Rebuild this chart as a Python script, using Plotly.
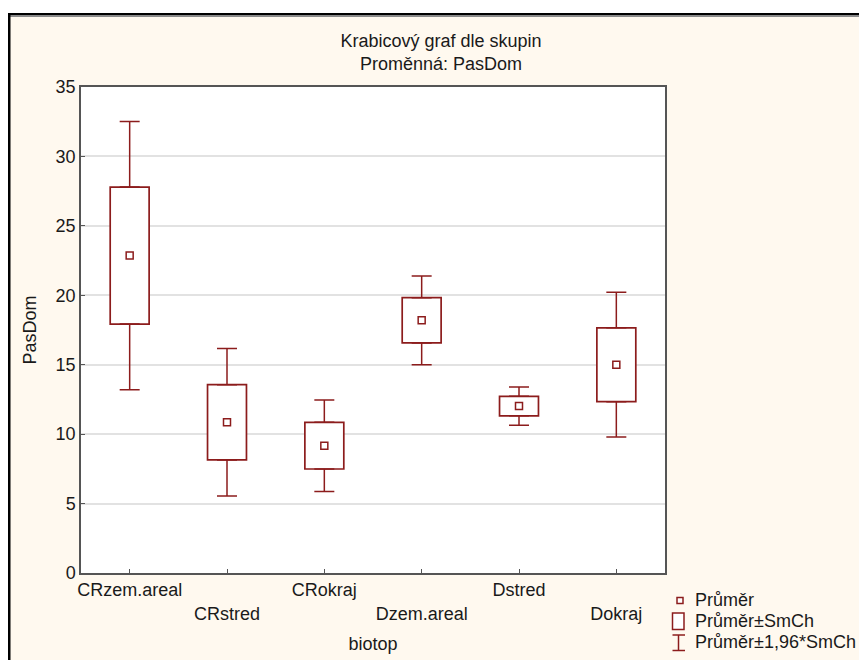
import plotly.graph_objects as go

# Group labels (biotop) and per-group statistics of PasDom
biotop = ["CRzem.areal", "CRstred", "CRokraj", "Dzem.areal", "Dstred", "Dokraj"]
prumer = [22.86, 10.85, 9.17, 18.20, 12.02, 15.00]   # group mean
smch = [4.93, 2.71, 1.68, 1.63, 0.70, 2.66]          # standard error of the mean
y_ticks = [0, 5, 10, 15, 20, 25, 30, 35]

RED = "#8C1C1C"
CREAM = "#FFF9EF"
TXT = "#1a1a1a"
FONT = "Liberation Sans, Arial, sans-serif"
FS = 18

W, H = 859, 660
ML, MR, MT, MB = 81, 194, 87, 87
PW, PH = W - ML - MR, H - MT - MB

# box = mean ± SE, whiskers = mean ± 1.96*SE
q1 = [m - s for m, s in zip(prumer, smch)]
q3 = [m + s for m, s in zip(prumer, smch)]
up = [1.96 * s - s for s in smch]      # whisker length beyond box edge
zero = [0] * len(biotop)


def px(xp):
    return (xp - ML) / PW


def py(yp):
    return (H - MB - yp) / PH


fig = go.Figure()

# box body: mean ± SE
fig.add_trace(go.Bar(
    x=biotop, base=q1, y=[2 * s for s in smch], width=0.4,
    marker=dict(color="white", line=dict(color=RED, width=1.7)),
    hoverinfo="skip", showlegend=False,
))

# whiskers up to mean ± 1.96*SE, starting at the box edges
whisker = dict(type="data", symmetric=False, width=10, thickness=1.5, color=RED)
fig.add_trace(go.Scatter(
    x=biotop, y=q3, mode="markers", marker=dict(size=1, opacity=0),
    error_y=dict(whisker, array=up, arrayminus=zero),
    hoverinfo="skip", showlegend=False,
))
fig.add_trace(go.Scatter(
    x=biotop, y=q1, mode="markers", marker=dict(size=1, opacity=0),
    error_y=dict(whisker, array=zero, arrayminus=up),
    hoverinfo="skip", showlegend=False,
))

# mean markers
fig.add_trace(go.Scatter(
    x=biotop, y=prumer, mode="markers",
    marker=dict(symbol="square", size=7, color="white",
                line=dict(color=RED, width=1.5)),
    showlegend=False, hoverinfo="skip",
))

# staggered category labels
ticktext = [b if i % 2 == 0 else "<br>" + b for i, b in enumerate(biotop)]

fig.update_xaxes(
    type="category", range=[-0.5, 5.5], tickmode="array",
    tickvals=biotop, ticktext=ticktext, automargin=False,
    ticks="inside", ticklen=4, tickcolor="#555", tickwidth=1,
    showline=True, linecolor="#555", linewidth=1.5, mirror=True,
    showgrid=False, tickfont=dict(size=FS, color=TXT, family=FONT),
    title=dict(text="biotop", font=dict(size=FS, color=TXT, family=FONT), standoff=15),
)
fig.update_yaxes(
    range=[0, 35], tickmode="array", tickvals=y_ticks, automargin=False,
    ticks="inside", ticklen=4, tickcolor="#555", tickwidth=1,
    showline=True, linecolor="#555", linewidth=1.5, mirror=True,
    showgrid=True, gridcolor="#e2e2e2", gridwidth=1.5, zeroline=False,
    tickfont=dict(size=FS, color=TXT, family=FONT),
    title=dict(text="PasDom", font=dict(size=FS, color=TXT, family=FONT), standoff=14),
)

shapes = []
# outer frame
shapes += [
    dict(type="rect", x0=px(0), x1=px(W), y0=py(0), y1=py(13), fillcolor="white", line_width=0),
    dict(type="rect", x0=px(0), x1=px(8), y0=py(0), y1=py(H), fillcolor="white", line_width=0),
    dict(type="rect", x0=px(8), x1=px(W), y0=py(13), y1=py(15), fillcolor="black", line_width=0),
    dict(type="rect", x0=px(10), x1=px(W), y0=py(15), y1=py(17), fillcolor="#8a8a8a", line_width=0),
    dict(type="rect", x0=px(8), x1=px(10.5), y0=py(13), y1=py(H), fillcolor="black", line_width=0),
]
# legend symbols
shapes += [
    dict(type="rect", x0=px(677), x1=px(683), y0=py(597.5), y1=py(603.5),
         line=dict(color=RED, width=1.5), fillcolor="white"),
    dict(type="rect", x0=px(672.5), x1=px(684), y0=py(613), y1=py(629.5),
         line=dict(color=RED, width=1.5), fillcolor="white"),
    dict(type="line", x0=px(678.5), x1=px(678.5), y0=py(635), y1=py(650.5),
         line=dict(color=RED, width=1.5)),
    dict(type="line", x0=px(672.5), x1=px(685), y0=py(635), y1=py(635),
         line=dict(color=RED, width=1.5)),
    dict(type="line", x0=px(672.5), x1=px(685), y0=py(650.5), y1=py(650.5),
         line=dict(color=RED, width=1.5)),
]
for s in shapes:
    s["xref"] = "paper"
    s["yref"] = "paper"

legend_items = [("Průměr", 600), ("Průměr±SmCh", 621), ("Průměr±1,96*SmCh", 642)]
annotations = [
    dict(text=t, x=px(693), y=py(yc), xref="paper", yref="paper",
         xanchor="left", yanchor="middle", showarrow=False,
         font=dict(size=FS, color=TXT, family=FONT))
    for t, yc in legend_items
]

fig.update_layout(
    width=W, height=H, autosize=False,
    margin=dict(l=ML, r=MR, t=MT, b=MB, pad=0),
    paper_bgcolor=CREAM, plot_bgcolor="white",
    title=dict(text="Krabicový graf dle skupin<br>Proměnná: PasDom",
               x=441 / W, xref="container", xanchor="center",
               y=1 - 47 / H, yref="container", yanchor="top",
               font=dict(size=FS, color=TXT, family=FONT)),
    shapes=shapes, annotations=annotations, showlegend=False,
)

fig.write_html("out.html")
